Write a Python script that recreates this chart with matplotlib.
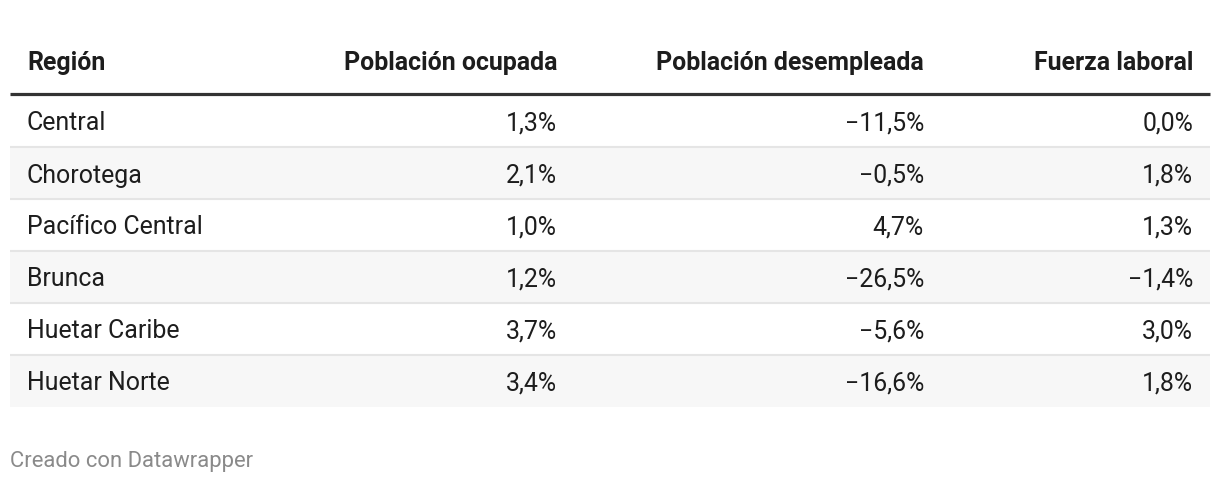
import matplotlib
matplotlib.use("Agg")
import matplotlib.pyplot as plt
from matplotlib.patches import Rectangle

plt.rcParams['font.family'] = ['Roboto', 'DejaVu Sans']

headers = ["Región", "Población ocupada", "Población desempleada", "Fuerza laboral"]
regions = ["Central", "Chorotega", "Pacífico Central", "Brunca", "Huetar Caribe", "Huetar Norte"]
ocupada = [1.3, 2.1, 1.0, 1.2, 3.7, 3.4]
desempleada = [-11.5, -0.5, 4.7, -26.5, -5.6, -16.6]
fuerza = [0.0, 1.8, 1.3, -1.4, 3.0, 1.8]
footer = "Creado con Datawrapper"


def fmt(v):
    s = f"{abs(v):.1f}".replace(".", ",") + "%"
    return ("\u2212" + s) if v < 0 else s


W, H = 1220, 482
fig = plt.figure(figsize=(W / 100, H / 100), dpi=100)
ax = fig.add_axes([0, 0, 1, 1])
ax.set_xlim(0, W)
ax.set_ylim(H, 0)
ax.axis("off")

left, right = 10, 1210
text_left = 27
col_right = [557, 924, 1193]
header_y = 63
rule_y = 94
row_top = 96
row_h = 52
fs = 17.9
txt_color = "#1d1d1d"

# header
ax.text(text_left, header_y, headers[0], ha="left", va="center", fontsize=fs,
        fontweight="bold", color=txt_color)
for x, h in zip(col_right, headers[1:]):
    ax.text(x, header_y, h, ha="right", va="center", fontsize=fs,
            fontweight="bold", color=txt_color)
ax.plot([left, right], [rule_y, rule_y], color="#333333", lw=2.3, solid_capstyle="butt")

cols = [ocupada, desempleada, fuerza]
n = len(regions)
for i, reg in enumerate(regions):
    top = row_top + i * row_h
    if i % 2 == 1:
        ax.add_patch(Rectangle((left, top), right - left, row_h - 1,
                               facecolor="#f7f7f7", edgecolor="none"))
    if i < n - 1:
        yl = top + row_h - 1
        ax.plot([left, right], [yl, yl], color="#e5e5e5", lw=1.5, solid_capstyle="butt")
    cy = top + row_h / 2 + 1.5
    ax.text(text_left, cy, reg, ha="left", va="center", fontsize=fs, color=txt_color)
    for x, c in zip(col_right, cols):
        ax.text(x, cy, fmt(c[i]), ha="right", va="center", fontsize=fs, color=txt_color)

ax.text(10, 461, footer, ha="left", va="center", fontsize=15.8, color="#8a8a8a")

fig.savefig("out.png", dpi=100, facecolor="white")
